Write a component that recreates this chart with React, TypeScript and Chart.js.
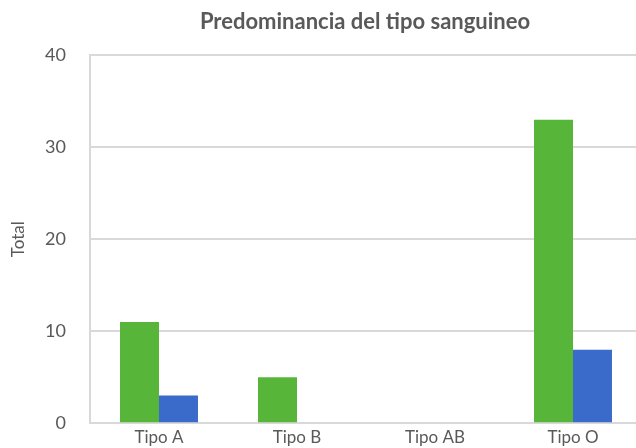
import React, { useEffect, useRef } from "react";
import { Chart, registerables } from "chart.js";

Chart.register(...registerables);

const categories = ["Tipo A", "Tipo B", "Tipo AB", "Tipo O"];
const seriesGreen = [11, 5, 0, 33];
const seriesBlue = [3, 0, 0, 8];
const yTicks = [0, 10, 20, 30, 40];
const titleText = "Predominancia del tipo sanguineo";
const yTitle = "Total";

const FONT = "Lato, 'Open Sans', sans-serif";
const TEXT = "#595959";
const GRID = "#d9d9d9";

const titleShift = {
  id: "titleShift",
  afterLayout(chart: any) {
    const t = chart.titleBlock;
    if (t) {
      t.left = 0;
      t.right = 730;
    }
  },
};

export default function App() {
  const ref = useRef<HTMLCanvasElement | null>(null);
  useEffect(() => {
    if (!ref.current) return;
    const chart = new Chart(ref.current, {
      type: "bar",
      data: {
        labels: categories,
        datasets: [
          { label: "Serie 1", data: seriesGreen, backgroundColor: "#57b53a", categoryPercentage: 0.565, barPercentage: 1 },
          { label: "Serie 2", data: seriesBlue, backgroundColor: "#3b6bca", categoryPercentage: 0.565, barPercentage: 1 },
        ],
      },
      options: {
        animation: false,
        responsive: false,
        maintainAspectRatio: false,
        layout: { padding: { left: 8, right: 0, top: 0, bottom: 2 } },
        plugins: {
          legend: { display: false },
          tooltip: { enabled: false },
          title: {
            display: true,
            text: titleText,
            color: TEXT,
            font: { family: FONT, size: 22, weight: "bold" },
            padding: { top: 9, bottom: 20 },
          },
        },
        scales: {
          x: {
            grid: { display: false, drawTicks: false },
            border: { display: true, color: GRID, width: 2 },
            ticks: { color: TEXT, font: { family: FONT, size: 17 }, padding: 4 },
          },
          y: {
            min: 0,
            max: 40,
            afterBuildTicks: (s: any) => {
              s.ticks = yTicks.map((v) => ({ value: v }));
            },
            afterFit: (s: any) => {
              s.width = 82;
            },
            grid: { color: GRID, lineWidth: 2, drawTicks: false },
            border: { display: true, color: GRID, width: 2 },
            ticks: { color: TEXT, font: { family: FONT, size: 18 }, padding: 24 },
            title: {
              display: true,
              text: yTitle,
              color: TEXT,
              font: { family: FONT, size: 17 },
              padding: { top: 0, bottom: 17 },
            },
          },
        },
      },
      plugins: [titleShift],
    });
    return () => chart.destroy();
  }, []);
  return (
    <div style={{ position: "fixed", left: 0, top: 0, width: 636, height: 448, overflow: "hidden", background: "#fff" }}>
      <canvas ref={ref} width={642} height={458} style={{ display: "block", width: 642, height: 458 }} />
    </div>
  );
}
